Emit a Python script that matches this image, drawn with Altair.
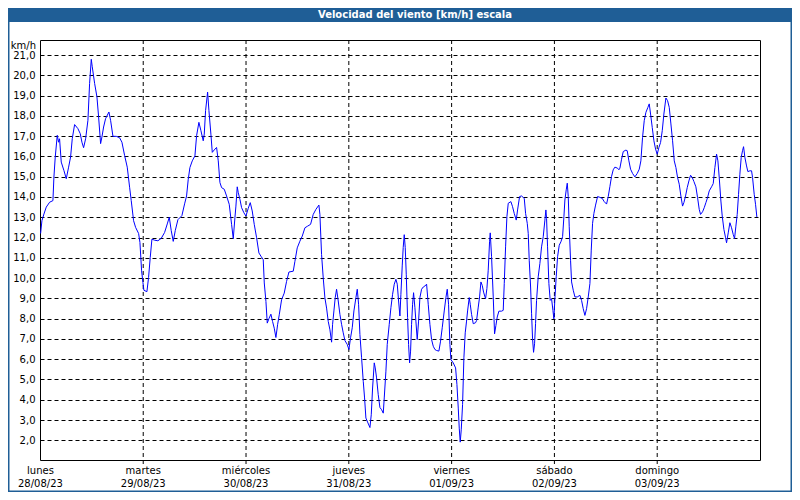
import altair as alt
import pandas as pd

# hours since Monday 28/08/23 00:00
hours = [
    0.04, 0.35, 0.82, 1.36, 2.14, 2.92, 3.15, 3.46, 3.93, 4.24, 4.47, 4.86, 5.49, 6.03, 6.58, 7.04,
    7.43, 7.98, 8.75, 9.3, 9.69, 10.08, 10.55, 11.09, 11.48, 11.87, 12.1, 12.65, 13.19, 13.58, 14.05,
    14.36, 14.75, 15.21, 15.99, 16.38, 16.93, 17.7, 18.48, 19.03, 19.65, 20.27, 20.82, 21.2, 21.75,
    22.22, 22.92, 23.23, 23.62, 23.93, 24.16, 24.86, 25.25, 25.64, 26.03, 26.65, 27.43, 28.21, 28.99,
    29.61, 30.08, 30.54, 31.01, 31.48, 32.1, 33.03, 33.66,
    34.12, 34.51, 34.9, 35.45, 36.07, 36.46, 37.0, 37.47, 38.01, 38.25, 38.56, 39.03, 39.34, 39.8,
    40.12, 40.74, 41.13, 41.52, 41.91, 42.3, 42.92, 43.46, 44.08, 44.63, 45.02, 45.41, 45.64, 45.95,
    46.19, 46.58, 46.97, 47.51, 47.98, 48.52, 48.99, 49.45, 49.92, 50.47, 51.01, 51.48, 52.02, 52.26,
    52.65, 52.96, 53.35, 53.81, 54.2, 54.59, 54.98, 55.37, 55.76, 56.3, 56.92, 57.47, 58.02, 59.03,
    59.42, 59.96, 60.58, 61.13, 61.75, 62.37, 63.07, 63.69, 64.32, 65.02, 65.25, 65.64, 66.03, 66.42,
    66.81, 67.2, 67.59, 67.98,
    68.21, 68.52, 68.83, 69.14, 69.53, 69.92, 70.31, 70.7, 71.09, 71.63, 72.02, 72.41, 72.8, 73.19,
    73.66, 73.97, 74.28, 74.59, 74.98, 75.37, 75.68, 75.99, 76.38, 76.93, 77.24, 77.55, 77.94, 78.17,
    78.48, 78.87, 79.26, 79.65, 80.04, 80.27, 80.66, 80.97, 81.44, 81.83, 82.22, 82.61, 83.0, 83.31,
    83.62, 83.93, 84.16, 84.47, 84.7, 84.94, 85.17, 85.41, 85.72, 85.95, 86.19, 86.42, 86.65, 86.89,
    87.12, 87.43, 87.66, 87.97, 88.29, 88.6, 88.99, 89.38, 89.77, 90.16, 90.54, 90.93, 91.32, 91.71,
    92.1, 92.49, 93.03, 93.42, 93.81, 94.28, 94.67, 94.98, 95.29, 95.6, 95.84, 96.38, 96.93, 97.24,
    97.55, 97.78, 98.01, 98.25, 98.56, 98.87, 99.18, 99.49, 99.73, 100.12, 100.35, 100.66, 101.05,
    101.59,
    101.83, 102.22, 102.53, 102.84, 103.15, 103.46, 103.93, 104.24, 104.55, 104.86, 105.02, 105.33,
    105.72, 106.03, 106.34, 106.65, 107.04, 107.66, 108.05, 108.29, 108.6, 108.91, 109.22, 109.84,
    110.23, 110.62, 111.09, 111.4, 111.87, 112.33, 112.96, 113.27, 113.66, 113.89, 114.12, 114.44,
    114.67, 114.9, 115.13, 115.37, 115.6, 115.83, 116.22, 116.61, 117.0, 117.39, 117.78, 118.01,
    118.17, 118.4, 118.71, 119.02, 119.34, 119.65, 119.88, 120.11, 120.42, 120.74, 121.13, 121.52,
    121.91, 122.22, 122.45, 122.76, 123.0, 123.23, 123.46, 123.77, 124.01, 124.4, 124.79, 125.33,
    125.95, 126.34, 126.73, 127.12, 127.51, 127.9, 128.29, 128.6, 128.91, 129.22, 129.61, 130.08,
    130.62, 131.17, 131.63, 132.18, 132.57, 132.95, 133.34, 133.73, 134.12, 134.74, 135.06,
    135.29, 135.68, 136.07, 136.69, 137.0, 137.39, 137.78, 138.25, 138.79, 139.34, 139.81, 140.19,
    140.58, 140.97, 141.36, 141.83, 142.14, 142.45, 142.84, 143.23, 143.62, 144.01, 144.4, 144.79,
    145.18, 145.56, 146.03, 146.42, 146.81, 147.2, 147.59, 147.98, 148.37, 148.75, 149.14, 149.53,
    149.92, 150.23, 150.62, 151.01, 151.4, 151.79, 152.18, 152.57, 153.03, 153.42, 153.81, 154.12,
    154.59, 154.98, 155.37, 155.76, 156.15, 156.69, 157.08, 157.47, 157.86, 158.17, 158.48, 158.87,
    159.18, 159.57, 159.96, 160.19, 160.58, 160.97, 161.36, 161.75, 162.06, 162.37, 162.68, 162.99,
    163.3, 163.61, 163.92, 164.16, 164.47, 164.86, 165.17, 165.64, 166.03, 166.26, 166.65, 166.96,
    167.27,
]

# wind speed, km/h
speed = [
    12.2, 12.83, 13.16, 13.5, 13.74, 13.82, 14.98, 15.97, 17.04, 16.7, 16.87, 15.72, 15.3, 14.9, 15.47, 15.97,
    16.87, 17.57, 17.37, 17.12, 16.7, 16.43, 16.87, 17.78, 19.6, 20.79, 20.42, 19.6, 18.94, 17.95, 16.63,
    16.96, 17.45, 17.86, 18.19, 17.78, 16.99, 16.99, 16.92, 16.7, 16.05, 15.47, 14.48, 13.82, 12.83,
    12.5, 12.2, 11.76, 10.36, 9.78, 9.4, 9.33, 10.03, 11.02, 11.92, 11.87, 11.84, 11.96, 12.25,
    12.67, 13.0, 12.34, 11.81, 12.34, 12.88, 13.08, 13.66,
    14.05, 14.87, 15.45, 15.78, 16.03, 17.02, 17.68, 17.27, 16.77, 17.1, 18.26, 19.17, 18.26, 17.1,
    16.2, 16.36, 16.44, 15.78, 14.71, 14.46, 14.38, 14.05, 13.64, 12.65, 11.95, 12.98, 13.55, 14.5,
    14.21, 13.88, 13.47, 13.22, 13.06, 13.44, 13.72, 13.31, 12.65, 11.99, 11.24, 11.08, 10.91, 9.76,
    8.85, 7.78, 8.0, 8.22, 7.86, 7.53, 7.07, 7.7, 8.19, 8.93, 9.26, 9.84, 10.3, 10.34,
    10.83, 11.49, 11.82, 12.07, 12.48, 12.56, 12.65, 13.14, 13.39, 13.6, 13.14, 11.16, 10.0, 9.02,
    8.52, 7.86, 7.45, 6.84,
    7.72, 8.38, 9.04, 9.45, 8.87, 8.21, 7.72, 7.3, 6.92, 6.73, 6.48, 7.06, 7.55, 8.38,
    9.04, 9.45, 8.71, 7.22, 6.07, 4.91, 4.09, 3.1, 2.9, 2.63, 3.26, 4.58, 5.82, 5.57,
    5.08, 4.25, 3.62, 3.51, 3.34, 4.09, 5.41, 6.73, 7.72, 8.54, 9.2, 9.7, 9.94, 9.7,
    8.87, 8.13, 9.2, 10.6, 11.51, 12.14, 11.51, 10.19, 8.05, 6.73, 5.82, 6.4, 7.72, 8.71,
    9.28, 8.54, 7.88, 6.97, 7.88, 9.04, 9.45, 9.56, 9.61, 9.7, 8.71, 7.72, 6.97, 6.64,
    6.48, 6.43, 6.4, 6.89, 7.55, 8.38, 9.04, 9.45, 8.71, 6.73, 5.98, 5.82, 5.57, 4.75,
    3.59, 2.6, 1.91, 2.52, 3.76, 6.07, 7.3, 7.88, 8.38, 9.04, 8.71, 8.21, 7.75,
    7.8,
    7.91, 8.57, 9.07, 9.81, 9.64, 9.31, 8.98, 9.48, 10.39, 11.79, 12.23, 11.05,
    9.07, 7.25, 7.66, 8.08, 8.37, 8.37, 8.41, 9.73, 11.54, 13.03, 13.69, 13.77,
    13.52, 13.19, 12.86, 13.36, 14.02, 14.05, 13.93, 13.19, 12.7, 12.2, 10.88, 9.56,
    8.24, 7.0, 6.34, 6.76, 7.75, 8.9, 10.06, 10.72, 11.54, 12.04, 12.86, 13.36,
    12.94, 11.54, 9.73, 8.9, 8.98, 8.41, 7.99, 8.98, 10.06, 11.05, 11.62, 11.79,
    12.04, 13.03, 13.85, 14.35, 14.68, 14.02, 12.53, 10.88, 9.81, 9.4, 9.07, 9.07,
    9.15, 8.9, 8.49, 8.16, 8.49, 9.07, 9.73, 11.38, 12.7, 13.19, 13.6, 14.02,
    13.98, 13.93, 13.77, 13.65, 14.02, 14.51, 15.01, 15.34, 15.47, 15.42, 15.34,
    15.42, 15.86, 16.24, 16.31, 16.28, 15.78, 15.37, 15.16, 14.99, 15.16, 15.37, 15.78,
    16.94, 17.76, 18.17, 18.42, 18.59, 18.09, 17.43, 16.77, 16.36, 16.11, 16.44, 16.69,
    17.27, 18.09, 18.88, 18.75, 18.42, 17.6, 16.77, 15.78, 15.45, 14.96, 14.63, 14.05,
    13.55, 13.72, 14.05, 14.46, 14.79, 15.07, 14.96, 14.76, 14.5, 13.97, 13.39, 13.14,
    13.27, 13.47, 13.72, 13.97, 14.3, 14.5, 14.66, 15.45, 16.11, 15.78, 14.96, 13.8,
    13.06, 12.4, 11.99, 11.74, 12.23, 12.73, 12.48, 12.15, 11.95, 12.56, 13.14, 14.13,
    15.12, 15.95, 16.28, 16.48, 15.95, 15.53, 15.25, 15.29, 15.29, 14.96, 14.13, 13.64,
    13.01,
]

day_hours = [0, 24, 48, 72, 96, 120, 144]
day_names = ["lunes", "martes", "miércoles", "jueves", "viernes", "sábado", "domingo"]
day_dates = ["28/08/23", "29/08/23", "30/08/23", "31/08/23", "01/09/23", "02/09/23", "03/09/23"]
y_ticks = list(range(2, 22))
title_text = "Velocidad del viento [km/h] escala"
unit_text = "km/h"

X_DOMAIN = [-0.1, 168.0]
Y_DOMAIN = [1.03, 21.74]
FRAME_BLUE = "#1f5e96"
FONT = "DejaVu Sans"

df = pd.DataFrame({"h": hours, "v": speed})
days = pd.DataFrame({"h": day_hours, "name": day_names, "date": day_dates})
inner_days = days[days["h"] > 0]
one = pd.DataFrame({"t": [title_text], "u": [unit_text]})

xs = alt.Scale(domain=X_DOMAIN, nice=False, zero=False)
ys = alt.Scale(domain=Y_DOMAIN, nice=False, zero=False)

title_bar = alt.Chart(one).mark_rect(color=FRAME_BLUE).encode(
    x=alt.value(-32), x2=alt.value(752), y=alt.value(-32), y2=alt.value(-18)
)
border = alt.Chart(one).mark_rect(fillOpacity=0, stroke=FRAME_BLUE, strokeWidth=1.5).encode(
    x=alt.value(-31.25), x2=alt.value(751.25), y=alt.value(-32), y2=alt.value(451.25)
)
title_txt = alt.Chart(one).mark_text(
    color="white", font=FONT, fontSize=10, fontWeight="bold", baseline="middle", align="center"
).encode(x=alt.value(375), y=alt.value(-25), text="t:N")
unit_txt = alt.Chart(one).mark_text(
    color="black", font=FONT, fontSize=10, baseline="middle", align="right"
).encode(x=alt.value(-4), y=alt.value(6), text="u:N")

vgrid = alt.Chart(inner_days).mark_rule(color="black", strokeDash=[4, 3], strokeWidth=1).encode(
    x=alt.X("h:Q", scale=xs, axis=None), y=alt.value(0), y2=alt.value(424)
)

line = alt.Chart(df).mark_line(color="#0000ff", strokeWidth=1).encode(
    x=alt.X("h:Q", scale=xs, axis=None),
    y=alt.Y(
        "v:Q",
        scale=ys,
        axis=alt.Axis(
            values=y_ticks,
            grid=True,
            gridColor="black",
            gridDash=[4, 3],
            gridOpacity=1,
            gridWidth=1,
            ticks=False,
            domain=False,
            labelPadding=5,
            labelFont=FONT,
            labelFontSize=10,
            labelColor="black",
            labelExpr="replace(format(datum.value, '.1f'), '.', ',')",
            title=None,
        ),
    ),
)

names = alt.Chart(days).mark_text(color="black", font=FONT, fontSize=10, baseline="middle").encode(
    x=alt.X("h:Q", scale=xs, axis=None), y=alt.value(431), text="name:N"
)
dates = alt.Chart(days).mark_text(color="black", font=FONT, fontSize=10, baseline="middle").encode(
    x=alt.X("h:Q", scale=xs, axis=None), y=alt.value(444), text="date:N"
)

chart = (
    alt.layer(title_bar, border, vgrid, line, names, dates, unit_txt, title_txt)
    .properties(
        width=720,
        height=420,
        autosize="none",
        padding={"left": 32, "top": 32, "right": 32, "bottom": 32},
    )
    .configure_view(stroke="black", strokeWidth=1)
)

chart.save("out.html", embed_options={"renderer": "svg", "actions": False})
